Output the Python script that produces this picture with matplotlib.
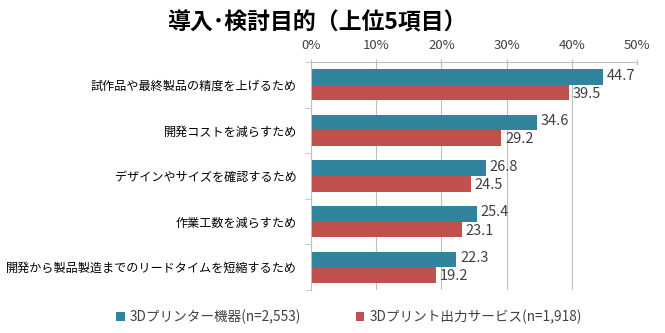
import matplotlib
matplotlib.use("Agg")
import matplotlib.pyplot as plt
import numpy as np

plt.rcParams['font.family'] = ['Noto Sans CJK JP', 'DejaVu Sans']

# Data
categories = [
    "試作品や最終製品の精度を上げるため",
    "開発コストを減らすため",
    "デザインやサイズを確認するため",
    "作業工数を減らすため",
    "開発から製品製造までのリードタイムを短縮するため",
]
printer_values = [44.7, 34.6, 26.8, 25.4, 22.3]
service_values = [39.5, 29.2, 24.5, 23.1, 19.2]
series_labels = ["3Dプリンター機器(n=2,553)", "3Dプリント出力サービス(n=1,918)"]
title = "導入･検討目的（上位5項目）"

TEAL = "#31849B"
RED = "#C0504D"
GRID = "#BFBFBF"
TEXT = "#404040"

fig = plt.figure(figsize=(6.65, 3.33), dpi=100)
ax = fig.add_axes([0.4677, 0.129, 0.4903, 0.685])

y = np.arange(len(categories))
h = 0.34
ax.barh(y - h / 2, printer_values, height=h, color=TEAL, label=series_labels[0])
ax.barh(y + h / 2, service_values, height=h, color=RED, label=series_labels[1])

for yi, v in zip(y, printer_values):
    ax.text(v + 0.6, yi - h / 2 - 0.03, f"{v:.1f}", va="center", ha="left",
            fontsize=10.5, color=TEXT)
for yi, v in zip(y, service_values):
    ax.text(v + 0.6, yi + h / 2 + 0.03, f"{v:.1f}", va="center", ha="left",
            fontsize=10.5, color=TEXT)

ax.set_xlim(0, 50)
ax.set_ylim(len(categories) - 0.5, -0.5)
ax.xaxis.tick_top()
ax.set_xticks(np.arange(0, 51, 10))
ax.set_xticklabels([f"{t}%" for t in range(0, 51, 10)], fontsize=9.5, color=TEXT)
ax.tick_params(axis="x", length=4, direction="inout", color=GRID, pad=5)

# category labels centred, boundary ticks as minor
ax.set_yticks(y)
ax.set_yticklabels(categories, fontsize=8.7, color="black")
ax.tick_params(axis="y", length=0, pad=10)
ax.set_yticks(np.arange(-0.5, len(categories), 1), minor=True)
ax.tick_params(axis="y", which="minor", length=4, color=GRID)

ax.grid(axis="x", color=GRID, linewidth=0.8)
ax.set_axisbelow(True)
for side in ["right", "bottom"]:
    ax.spines[side].set_visible(False)
ax.spines["left"].set_color(GRID)
ax.spines["top"].set_color(GRID)

fig.text(0.477, 0.93, title, ha="center", va="center", fontsize=16.5,
         fontweight="bold", color="black")

fig.legend(loc="lower center", bbox_to_anchor=(0.525, -0.01), ncol=2, frameon=False,
           fontsize=9.8, handlelength=0.6, handleheight=0.6, columnspacing=4.0,
           handletextpad=0.4, labelcolor=TEXT)

fig.savefig("out.png", dpi=100)
